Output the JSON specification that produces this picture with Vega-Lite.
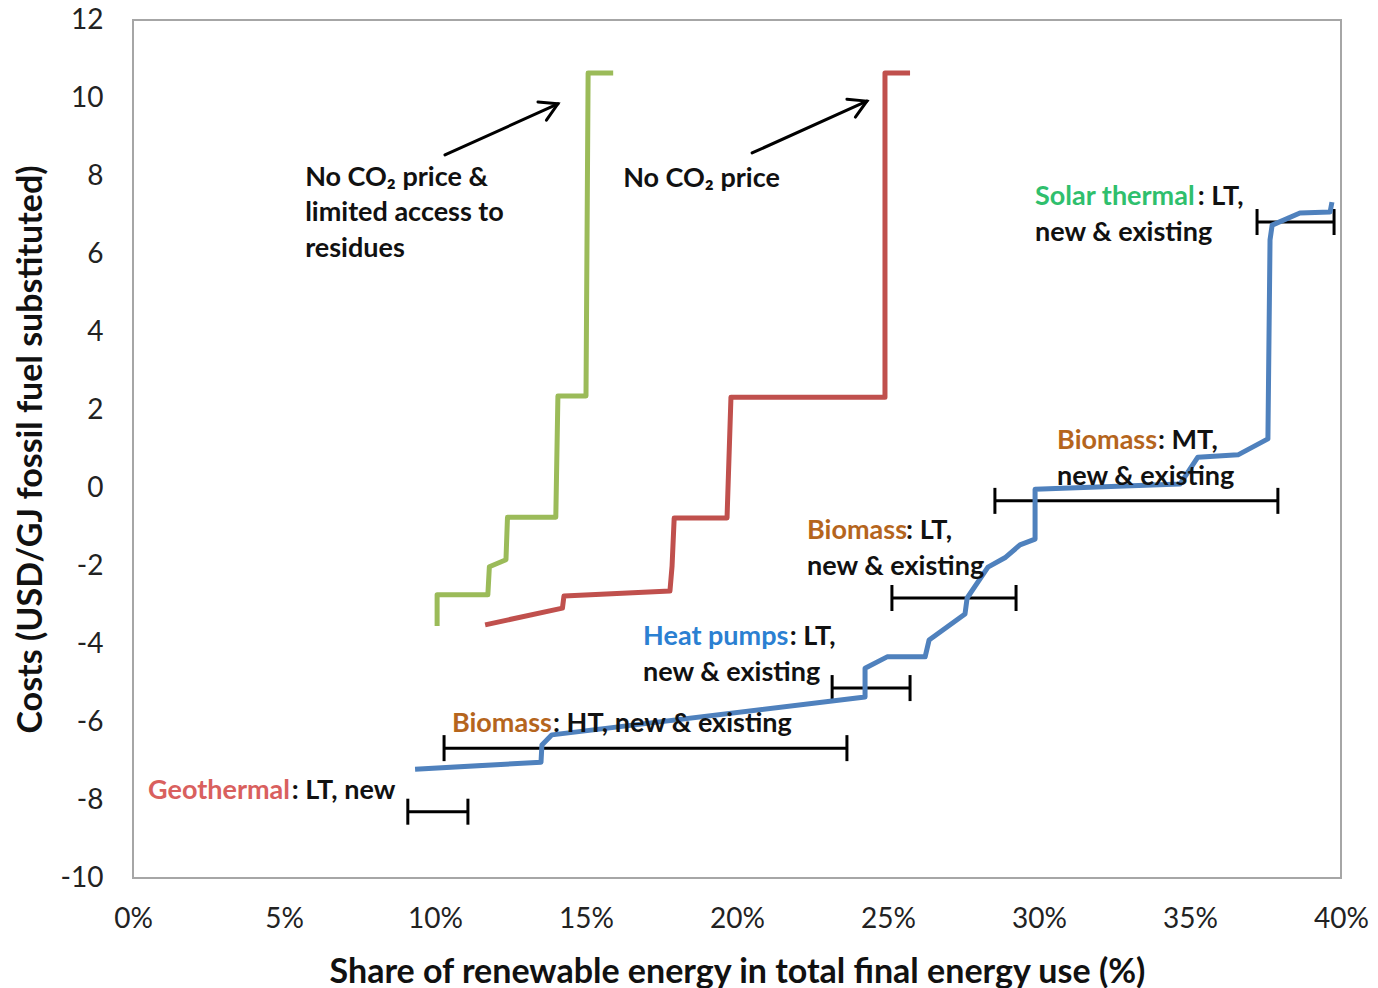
{
  "$schema": "https://vega.github.io/schema/vega-lite/v6.json",
  "width": 1208,
  "height": 858,
  "autosize": {"type": "none"},
  "padding": {"left": 133, "top": 20, "right": 37, "bottom": 110},
  "background": "white",
  "config": {
    "view": {"stroke": "#a6a6a6", "strokeWidth": 2},
    "font": "Lato",
    "axis": {
      "grid": false, "domain": false, "ticks": false, "labelFlush": false,
      "labelFont": "Lato", "labelFontSize": 28, "labelColor": "#222222",
      "titleFont": "Lato", "titleFontSize": 34, "titleFontWeight": "bold", "titleColor": "#111111"
    }
  },
  "datasets": {
    "curves": [
      {"s": "limited", "o": 1, "x": 10.07, "y": -3.54},
      {"s": "limited", "o": 2, "x": 10.07, "y": -2.74},
      {"s": "limited", "o": 3, "x": 11.75, "y": -2.74},
      {"s": "limited", "o": 4, "x": 11.8, "y": -2.02},
      {"s": "limited", "o": 5, "x": 12.35, "y": -1.84},
      {"s": "limited", "o": 6, "x": 12.4, "y": -0.75},
      {"s": "limited", "o": 7, "x": 14.0, "y": -0.75},
      {"s": "limited", "o": 8, "x": 14.07, "y": 2.36},
      {"s": "limited", "o": 9, "x": 15.0, "y": 2.36},
      {"s": "limited", "o": 10, "x": 15.07, "y": 10.64},
      {"s": "limited", "o": 11, "x": 15.9, "y": 10.64},
      {"s": "noco2", "o": 1, "x": 11.66, "y": -3.51},
      {"s": "noco2", "o": 2, "x": 14.22, "y": -3.08},
      {"s": "noco2", "o": 3, "x": 14.27, "y": -2.77},
      {"s": "noco2", "o": 4, "x": 17.78, "y": -2.64},
      {"s": "noco2", "o": 5, "x": 17.85, "y": -2.0},
      {"s": "noco2", "o": 6, "x": 17.92, "y": -0.77},
      {"s": "noco2", "o": 7, "x": 19.67, "y": -0.77},
      {"s": "noco2", "o": 8, "x": 19.8, "y": 2.33},
      {"s": "noco2", "o": 9, "x": 24.9, "y": 2.33},
      {"s": "noco2", "o": 10, "x": 24.9, "y": 10.64},
      {"s": "noco2", "o": 11, "x": 25.73, "y": 10.64},
      {"s": "base", "o": 1, "x": 9.34, "y": -7.21},
      {"s": "base", "o": 2, "x": 13.51, "y": -7.03},
      {"s": "base", "o": 3, "x": 13.54, "y": -6.59},
      {"s": "base", "o": 4, "x": 13.87, "y": -6.33},
      {"s": "base", "o": 5, "x": 24.24, "y": -5.36},
      {"s": "base", "o": 6, "x": 24.24, "y": -4.62},
      {"s": "base", "o": 7, "x": 24.97, "y": -4.33},
      {"s": "base", "o": 8, "x": 26.23, "y": -4.33},
      {"s": "base", "o": 9, "x": 26.36, "y": -3.9},
      {"s": "base", "o": 10, "x": 27.55, "y": -3.23},
      {"s": "base", "o": 11, "x": 27.62, "y": -2.82},
      {"s": "base", "o": 12, "x": 28.31, "y": -2.03},
      {"s": "base", "o": 13, "x": 28.87, "y": -1.79},
      {"s": "base", "o": 14, "x": 29.37, "y": -1.46},
      {"s": "base", "o": 15, "x": 29.87, "y": -1.31},
      {"s": "base", "o": 16, "x": 29.87, "y": -0.03},
      {"s": "base", "o": 17, "x": 34.67, "y": 0.1},
      {"s": "base", "o": 18, "x": 35.26, "y": 0.79},
      {"s": "base", "o": 19, "x": 36.59, "y": 0.85},
      {"s": "base", "o": 20, "x": 37.58, "y": 1.26},
      {"s": "base", "o": 21, "x": 37.65, "y": 6.36},
      {"s": "base", "o": 22, "x": 37.72, "y": 6.74},
      {"s": "base", "o": 23, "x": 38.64, "y": 7.05},
      {"s": "base", "o": 24, "x": 39.64, "y": 7.08},
      {"s": "base", "o": 25, "x": 39.7, "y": 7.33}
    ],
    "bars": [
      {"x": 9.1, "xe": 11.09, "y": -8.3},
      {"x": 10.3, "xe": 23.64, "y": -6.67},
      {"x": 23.15, "xe": 25.73, "y": -5.13},
      {"x": 25.13, "xe": 29.24, "y": -2.82},
      {"x": 28.54, "xe": 37.91, "y": -0.33},
      {"x": 37.22, "xe": 39.77, "y": 6.82}
    ],
    "arrows": [
      {"p": "s1", "o": 1, "x": 10.33, "y": 8.54},
      {"p": "s1", "o": 2, "x": 14.07, "y": 9.85},
      {"p": "h1", "o": 1, "x": 13.41, "y": 9.9},
      {"p": "h1", "o": 2, "x": 14.07, "y": 9.85},
      {"p": "h1", "o": 3, "x": 13.69, "y": 9.43},
      {"p": "s2", "o": 1, "x": 20.5, "y": 8.59},
      {"p": "s2", "o": 2, "x": 24.3, "y": 9.92},
      {"p": "h2", "o": 1, "x": 23.64, "y": 9.97},
      {"p": "h2", "o": 2, "x": 24.3, "y": 9.92},
      {"p": "h2", "o": 3, "x": 23.92, "y": 9.51}
    ],
    "labels": [
      {"k": "plain", "x": 5.7, "y": 7.95, "t": "No CO₂ price &"},
      {"k": "plain", "x": 5.7, "y": 7.05, "t": "limited access to"},
      {"k": "plain", "x": 5.7, "y": 6.13, "t": "residues"},
      {"k": "plain", "x": 16.23, "y": 7.92, "t": "No CO₂ price"},
      {"k": "Solar thermal", "x": 29.87, "y": 7.46, "t": "Solar thermal"},
      {"k": "plain", "x": 35.26, "y": 7.46, "t": ": LT,"},
      {"k": "plain", "x": 29.87, "y": 6.54, "t": "new & existing"},
      {"k": "Biomass", "x": 30.6, "y": 1.2, "t": "Biomass"},
      {"k": "plain", "x": 33.94, "y": 1.2, "t": ": MT,"},
      {"k": "plain", "x": 30.6, "y": 0.28, "t": "new & existing"},
      {"k": "Biomass", "x": 22.32, "y": -1.1, "t": "Biomass"},
      {"k": "plain", "x": 25.6, "y": -1.1, "t": ": LT,"},
      {"k": "plain", "x": 22.32, "y": -2.03, "t": "new & existing"},
      {"k": "Heat pumps", "x": 16.89, "y": -3.82, "t": "Heat pumps"},
      {"k": "plain", "x": 21.75, "y": -3.82, "t": ": LT,"},
      {"k": "plain", "x": 16.89, "y": -4.74, "t": "new & existing"},
      {"k": "Biomass", "x": 10.56, "y": -6.05, "t": "Biomass"},
      {"k": "plain", "x": 13.91, "y": -6.05, "t": ": HT, new & existing"},
      {"k": "Geothermal", "x": 0.5, "y": -7.77, "t": "Geothermal"},
      {"k": "plain", "x": 5.26, "y": -7.77, "t": ": LT, new"}
    ]
  },
  "resolve": {"scale": {"color": "independent"}},
  "layer": [
    {
      "data": {"name": "bars"},
      "mark": {"type": "rule", "color": "#000000", "strokeWidth": 3},
      "encoding": {
        "x": {"field": "x", "type": "quantitative", "scale": {"domain": [0, 40]},
          "axis": {"title": "Share of renewable energy in total final energy use (%)", "values": [0, 5, 10, 15, 20, 25, 30, 35, 40], "labelExpr": "datum.value + '%'", "labelPadding": 27, "titleX": 604, "titleY": 104, "titleBaseline": "alphabetic"}},
        "x2": {"field": "xe"},
        "y": {"field": "y", "type": "quantitative", "scale": {"domain": [-10, 12]},
          "axis": {"title": "Costs (USD/GJ fossil fuel substituted)", "values": [-10, -8, -6, -4, -2, 0, 2, 4, 6, 8, 10, 12], "labelExpr": "'' + datum.value", "labelPadding": 30, "titleX": -92, "titleY": 429, "titleBaseline": "alphabetic", "titleAngle": 270}}
      }
    },
    {
      "data": {"name": "bars"},
      "mark": {"type": "tick", "orient": "vertical", "color": "#000000", "thickness": 3, "size": 26, "opacity": 1},
      "encoding": {
        "x": {"field": "x", "type": "quantitative", "scale": {"domain": [0, 40]},
          "axis": {"title": "Share of renewable energy in total final energy use (%)", "values": [0, 5, 10, 15, 20, 25, 30, 35, 40], "labelExpr": "datum.value + '%'", "labelPadding": 27, "titleX": 604, "titleY": 104, "titleBaseline": "alphabetic"}},
        "y": {"field": "y", "type": "quantitative", "scale": {"domain": [-10, 12]},
          "axis": {"title": "Costs (USD/GJ fossil fuel substituted)", "values": [-10, -8, -6, -4, -2, 0, 2, 4, 6, 8, 10, 12], "labelExpr": "'' + datum.value", "labelPadding": 30, "titleX": -92, "titleY": 429, "titleBaseline": "alphabetic", "titleAngle": 270}}
      }
    },
    {
      "data": {"name": "bars"},
      "mark": {"type": "tick", "orient": "vertical", "color": "#000000", "thickness": 3, "size": 26, "opacity": 1},
      "encoding": {
        "x": {"field": "xe", "type": "quantitative", "scale": {"domain": [0, 40]},
          "axis": {"title": "Share of renewable energy in total final energy use (%)", "values": [0, 5, 10, 15, 20, 25, 30, 35, 40], "labelExpr": "datum.value + '%'", "labelPadding": 27, "titleX": 604, "titleY": 104, "titleBaseline": "alphabetic"}},
        "y": {"field": "y", "type": "quantitative", "scale": {"domain": [-10, 12]},
          "axis": {"title": "Costs (USD/GJ fossil fuel substituted)", "values": [-10, -8, -6, -4, -2, 0, 2, 4, 6, 8, 10, 12], "labelExpr": "'' + datum.value", "labelPadding": 30, "titleX": -92, "titleY": 429, "titleBaseline": "alphabetic", "titleAngle": 270}}
      }
    },
    {
      "mark": {"type": "rule", "color": "#a6a6a6", "strokeWidth": 2},
      "encoding": {
        "y": {"datum": 0, "type": "quantitative", "scale": {"domain": [-10, 12]},
          "axis": {"title": "Costs (USD/GJ fossil fuel substituted)", "values": [-10, -8, -6, -4, -2, 0, 2, 4, 6, 8, 10, 12], "labelExpr": "'' + datum.value", "labelPadding": 30, "titleX": -92, "titleY": 429, "titleBaseline": "alphabetic", "titleAngle": 270}}
      }
    },
    {
      "data": {"name": "curves"},
      "mark": {"type": "line", "strokeWidth": 5, "strokeJoin": "round"},
      "encoding": {
        "x": {"field": "x", "type": "quantitative", "scale": {"domain": [0, 40]},
          "axis": {"title": "Share of renewable energy in total final energy use (%)", "values": [0, 5, 10, 15, 20, 25, 30, 35, 40], "labelExpr": "datum.value + '%'", "labelPadding": 27, "titleX": 604, "titleY": 104, "titleBaseline": "alphabetic"}},
        "y": {"field": "y", "type": "quantitative", "scale": {"domain": [-10, 12]},
          "axis": {"title": "Costs (USD/GJ fossil fuel substituted)", "values": [-10, -8, -6, -4, -2, 0, 2, 4, 6, 8, 10, 12], "labelExpr": "'' + datum.value", "labelPadding": 30, "titleX": -92, "titleY": 429, "titleBaseline": "alphabetic", "titleAngle": 270}},
        "color": {
          "field": "s", "type": "nominal",
          "scale": {"domain": ["limited", "noco2", "base"], "range": ["#9bbb59", "#c0504d", "#4f81bd"]},
          "legend": null
        },
        "order": {"field": "o", "type": "quantitative"}
      }
    },
    {
      "data": {"name": "arrows"},
      "mark": {"type": "line", "color": "#000000", "strokeWidth": 3, "strokeCap": "round", "strokeJoin": "miter"},
      "encoding": {
        "x": {"field": "x", "type": "quantitative", "scale": {"domain": [0, 40]},
          "axis": {"title": "Share of renewable energy in total final energy use (%)", "values": [0, 5, 10, 15, 20, 25, 30, 35, 40], "labelExpr": "datum.value + '%'", "labelPadding": 27, "titleX": 604, "titleY": 104, "titleBaseline": "alphabetic"}},
        "y": {"field": "y", "type": "quantitative", "scale": {"domain": [-10, 12]},
          "axis": {"title": "Costs (USD/GJ fossil fuel substituted)", "values": [-10, -8, -6, -4, -2, 0, 2, 4, 6, 8, 10, 12], "labelExpr": "'' + datum.value", "labelPadding": 30, "titleX": -92, "titleY": 429, "titleBaseline": "alphabetic", "titleAngle": 270}},
        "detail": {"field": "p", "type": "nominal"},
        "order": {"field": "o", "type": "quantitative"}
      }
    },
    {
      "data": {"name": "labels"},
      "mark": {"type": "text", "align": "left", "baseline": "middle", "font": "Lato", "fontSize": 27, "fontWeight": "bold"},
      "encoding": {
        "x": {"field": "x", "type": "quantitative", "scale": {"domain": [0, 40]},
          "axis": {"title": "Share of renewable energy in total final energy use (%)", "values": [0, 5, 10, 15, 20, 25, 30, 35, 40], "labelExpr": "datum.value + '%'", "labelPadding": 27, "titleX": 604, "titleY": 104, "titleBaseline": "alphabetic"}},
        "y": {"field": "y", "type": "quantitative", "scale": {"domain": [-10, 12]},
          "axis": {"title": "Costs (USD/GJ fossil fuel substituted)", "values": [-10, -8, -6, -4, -2, 0, 2, 4, 6, 8, 10, 12], "labelExpr": "'' + datum.value", "labelPadding": 30, "titleX": -92, "titleY": 429, "titleBaseline": "alphabetic", "titleAngle": 270}},
        "text": {"field": "t"},
        "color": {
          "field": "k", "type": "nominal",
          "scale": {"domain": ["plain", "Geothermal", "Biomass", "Heat pumps", "Solar thermal"], "range": ["#111111", "#d9605e", "#b5651d", "#2b80d2", "#2fbf6d"]},
          "legend": null
        }
      }
    }
  ]
}
